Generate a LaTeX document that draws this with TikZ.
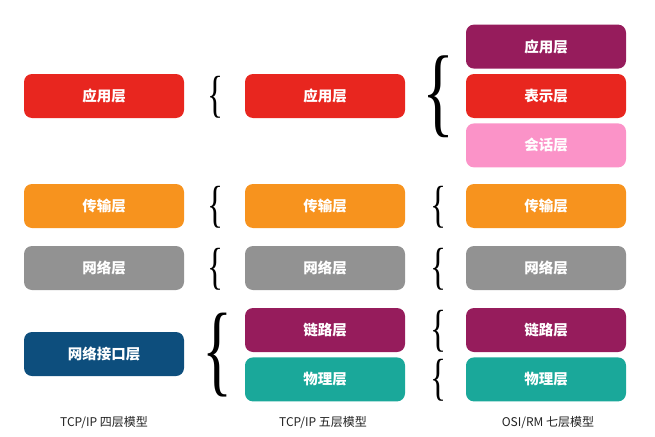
\documentclass[tikz,border=0pt]{standalone}
\usepackage{fontspec}
\usepackage{graphicx}
\setmainfont{Noto Sans CJK SC}
\newfontfamily\bracefont{Liberation Serif}
\usetikzlibrary{positioning}
\definecolor{layred}{HTML}{E8261F}
\definecolor{laypurple}{HTML}{961C5C}
\definecolor{laypink}{HTML}{FB93C8}
\definecolor{layorange}{HTML}{F7931E}
\definecolor{laygray}{HTML}{929292}
\definecolor{layblue}{HTML}{0D4E7D}
\definecolor{layteal}{HTML}{1AA89A}
\definecolor{capink}{HTML}{222222}
\newcommand{\layerbrace}[2]{\resizebox*{#1}{#2}{\bracefont\{}}
\tikzset{
  layerbox/.style={rounded corners=8pt,text=white,inner sep=0pt,
                   minimum width=160pt,minimum height=44pt,
                   font=\fontsize{14.5}{17}\selectfont\bfseries},
  bracenode/.style={inner sep=0pt,outer sep=0pt},
  caption/.style={font=\fontsize{12}{14}\selectfont,text=capink}
}
\begin{document}
\begin{tikzpicture}[x=1pt,y=-1pt]
  \useasboundingbox (0,0) rectangle (655,436);
  % TCP/IP four layers
  \node[layerbox,fill=layred] (fapp) at (104,96) {应用层};
  \node[layerbox,fill=layorange] (ftrans) at (104,206) {传输层};
  \node[layerbox,fill=laygray] (fnet) at (104,268) {网络层};
  \node[layerbox,fill=layblue] (fiface) at (104,354) {网络接口层};
  % TCP/IP five layers
  \node[layerbox,fill=layred] (vapp) at (325,96) {应用层};
  \node[layerbox,fill=layorange] (vtrans) at (325,206) {传输层};
  \node[layerbox,fill=laygray] (vnet) at (325,268) {网络层};
  \node[layerbox,fill=laypurple] (vlink) at (325,330) {链路层};
  \node[layerbox,fill=layteal,below=5pt of vlink] (vphys) {物理层};
  % OSI seven layers
  \node[layerbox,fill=layred] (spres) at (546,96) {表示层};
  \node[layerbox,fill=laypurple,above=5pt of spres] (sapp) {应用层};
  \node[layerbox,fill=laypink,below=5pt of spres] (ssess) {会话层};
  \node[layerbox,fill=layorange] (strans) at (546,206) {传输层};
  \node[layerbox,fill=laygray] (snet) at (546,268) {网络层};
  \node[layerbox,fill=laypurple] (slink) at (546,330) {链路层};
  \node[layerbox,fill=layteal,below=5pt of slink] (sphys) {物理层};
  % braces
  \node[bracenode] (bfapp) at (215,97) {\layerbrace{16pt}{42pt}};
  \node[bracenode] (bftrans) at (215,207) {\layerbrace{16pt}{42pt}};
  \node[bracenode] (bfnet) at (215,269) {\layerbrace{16pt}{42pt}};
  \node[bracenode] (bfiface) at (217,355) {\layerbrace{30pt}{84pt}};
  \node[bracenode] (bsapp) at (439,97) {\layerbrace{32pt}{82pt}};
  \node[bracenode] (bstrans) at (438,207) {\layerbrace{16pt}{42pt}};
  \node[bracenode] (bsnet) at (438,269) {\layerbrace{16pt}{42pt}};
  \node[bracenode] (bslink) at (438,331) {\layerbrace{16pt}{42pt}};
  \node[bracenode] (bsphys) at (438,380) {\layerbrace{16pt}{42pt}};
  % captions
  \node[caption] (cfour) at (104,423) {TCP/IP 四层模型};
  \node[caption] (cfive) at (323,423) {TCP/IP 五层模型};
  \node[caption] (cseven) at (548,423) {OSI/RM 七层模型};
\end{tikzpicture}
\end{document}
